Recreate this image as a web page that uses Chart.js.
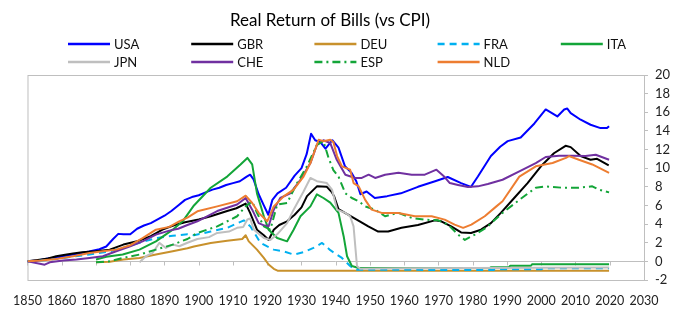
<!DOCTYPE html>
<html>
<head>
<meta charset="utf-8">
<script src="https://cdn.jsdelivr.net/npm/chart.js@4.4.0/dist/chart.umd.min.js"></script>
<style>
  html, body { margin: 0; padding: 0; background: #fff; }
  #wrap { width: 700px; height: 322px; }
</style>
</head>
<body>
<div id="wrap"><canvas id="billsChart" width="700" height="322"></canvas></div>
<script>
const chartTitle = 'Real Return of Bills (vs CPI)';
const xTicks = [1850, 1860, 1870, 1880, 1890, 1900, 1910, 1920, 1930, 1940, 1950, 1960, 1970, 1980, 1990, 2000, 2010, 2020, 2030];
const yTicks = [-2, 0, 2, 4, 6, 8, 10, 12, 14, 16, 18, 20];

const usaYears = [1850, 1853, 1856, 1859, 1862, 1865, 1868, 1871, 1873, 1875, 1876.5, 1878, 1880, 1882, 1884, 1886, 1888, 1890, 1892, 1894, 1896, 1898, 1900, 1902, 1904, 1906, 1908, 1910, 1912, 1914, 1915, 1916, 1917.5, 1919, 1920.3, 1921.5, 1923, 1925.5, 1928, 1930, 1931.5, 1932.8, 1934, 1935.5, 1937, 1939, 1940.8, 1942.7, 1944.6, 1946, 1947.2, 1949, 1951.4, 1955, 1959, 1964, 1969, 1972.7, 1976.6, 1979.5, 1981.5, 1985.3, 1988, 1990.2, 1994, 1998, 2001.3, 2004.7, 2006.7, 2007.6, 2008.6, 2011.5, 2014.4, 2017.3, 2019.2, 2019.8];
const usaVals = [0, 0.1, 0.3, 0.45, 0.65, 0.85, 1.05, 1.3, 1.6, 2.4, 2.95, 2.9, 2.9, 3.5, 3.85, 4.1, 4.5, 4.9, 5.4, 6.0, 6.6, 6.9, 7.1, 7.4, 7.7, 7.9, 8.2, 8.4, 8.6, 9.1, 9.3, 8.8, 7.2, 6.0, 5.0, 6.6, 7.3, 7.9, 9.2, 10.0, 11.5, 13.7, 13.0, 12.8, 12.1, 13.0, 12.2, 10.2, 9.5, 8.6, 7.2, 7.5, 6.8, 7.0, 7.3, 8.0, 8.6, 9.05, 8.4, 8.0, 9.1, 11.3, 12.3, 12.9, 13.3, 14.8, 16.3, 15.55, 16.3, 16.4, 15.9, 15.2, 14.66, 14.3, 14.3, 14.5];

const gbrYears = [1850, 1853, 1856, 1858.4, 1861, 1863.3, 1866, 1870, 1874, 1878, 1882, 1886, 1889.4, 1893, 1896, 1900, 1903.5, 1908.3, 1911, 1913.7, 1915, 1917, 1919, 1920.4, 1921.9, 1923.5, 1925.8, 1928, 1930, 1931.6, 1934.5, 1937.4, 1938.9, 1939.5, 1940.8, 1942.7, 1944.6, 1947, 1949.5, 1952.4, 1955.3, 1959.2, 1964, 1968.9, 1970.8, 1973.7, 1976.6, 1979.5, 1982.4, 1985.3, 1988.2, 1992.1, 1996, 1999.9, 2003.7, 2007.1, 2008.6, 2011.5, 2014.4, 2016.3, 2019.7];
const gbrVals = [0, 0.15, 0.3, 0.55, 0.7, 0.84, 0.98, 1.08, 1.26, 1.8, 2.15, 2.7, 3.4, 3.9, 4.2, 4.5, 4.85, 5.4, 5.7, 6.2, 5.2, 3.4, 2.8, 2.3, 3.4, 3.9, 4.3, 5.0, 5.8, 7.0, 8.05, 8.0, 7.4, 7.0, 5.6, 5.2, 4.8, 4.3, 3.75, 3.2, 3.2, 3.6, 3.9, 4.4, 4.3, 3.75, 3.1, 3.05, 3.4, 4.1, 5.2, 6.8, 8.4, 10.2, 11.6, 12.4, 12.26, 11.3, 10.9, 11.0, 10.3];

const deuYears = [1870, 1874, 1878, 1882.7, 1887.5, 1892.4, 1896.7, 1898.6, 1903.5, 1908.3, 1912.7, 1913.7, 1914.6, 1917, 1919, 1920.4, 1921.9, 1923, 2019.8];
const deuVals = [-0.1, -0.05, 0.2, 0.37, 0.73, 1.08, 1.4, 1.6, 1.98, 2.2, 2.4, 2.8, 2.15, 1.26, 0.37, -0.34, -0.8, -1.0, -1.0];

const fraYears = [1850, 1854, 1858.4, 1863, 1868.1, 1874, 1877.8, 1882.7, 1887.5, 1892.4, 1896.7, 1898.6, 1903.5, 1908.3, 1913.2, 1915.1, 1918, 1920, 1921.9, 1924.8, 1927.7, 1930.6, 1933.5, 1936, 1938.4, 1941.8, 1944.2, 1945.7, 1986, 1986.5, 2000, 2000.5, 2019.8];
const fraVals = [0, 0.1, 0.26, 0.5, 0.73, 1.08, 1.44, 1.98, 2.5, 2.75, 2.9, 2.8, 3.2, 3.6, 4.4, 3.75, 2.0, 1.6, 1.26, 1.08, 0.73, 0.98, 1.44, 1.98, 1.2, 0.37, -0.5, -0.9, -0.93, -0.85, -0.85, -0.75, -0.75];

const itaYears = [1870, 1873, 1877.8, 1882.7, 1887.5, 1892.4, 1895.3, 1898.6, 1903.5, 1908.3, 1912.2, 1914.2, 1915.6, 1917, 1919, 1920.4, 1922.9, 1925.8, 1927.7, 1929.7, 1932.6, 1934.5, 1936.4, 1938.4, 1940.8, 1942.3, 1943.3, 1944.7, 1946.7, 1985, 1985.3, 1990.6, 1990.9, 1997, 1997.3, 2019.8];
const itaVals = [0.2, 0.5, 0.73, 1.26, 2.15, 3.4, 4.3, 6.0, 7.9, 9.1, 10.4, 11.1, 10.4, 7.3, 4.84, 3.4, 2.5, 2.15, 3.4, 4.84, 5.9, 7.2, 6.8, 6.3, 5.2, 2.7, 0.55, -0.5, -0.72, -0.72, -0.62, -0.62, -0.47, -0.47, -0.32, -0.32];

const jpnYears = [1882.7, 1884.6, 1886.5, 1888.5, 1890.4, 1892.4, 1894.3, 1896.7, 1899.6, 1903, 1905.4, 1908.8, 1911.2, 1913, 1914.2, 1915, 1916.1, 1919, 1920.9, 1922.9, 1925.8, 1927.7, 1930.6, 1932.6, 1934.5, 1937.4, 1938.9, 1940.4, 1942.8, 1944.2, 1945.2, 1946.2, 1947.1, 1960, 2019.8];
const jpnVals = [-0.1, 0.55, 0.9, 1.98, 1.44, 1.8, 1.62, 2.0, 2.4, 2.6, 3.05, 3.2, 3.6, 3.7, 4.5, 4.6, 3.4, 2.5, 2.3, 2.9, 4.1, 5.55, 7.5, 8.95, 8.6, 8.4, 7.7, 5.55, 5.2, 4.84, 3.75, -0.5, -0.8, -0.75, -0.65];

const cheYears = [1850, 1853.6, 1855, 1856.5, 1860.4, 1864.3, 1868.1, 1872, 1875.9, 1879.8, 1883.6, 1887.5, 1891.4, 1894, 1896.7, 1899.6, 1905.4, 1911.2, 1913.7, 1915.6, 1917.5, 1919.2, 1920.4, 1921.9, 1923.8, 1926.7, 1929.7, 1932.6, 1934.5, 1936.4, 1938.4, 1940.3, 1942.8, 1945.7, 1947.6, 1949.6, 1951.5, 1954.4, 1958.3, 1962.2, 1966, 1969.4, 1971.4, 1973.3, 1975.7, 1978.6, 1981.5, 1984.4, 1988.7, 1993.6, 1998.4, 2001.3, 2005.2, 2009.1, 2012.9, 2015.9, 2019.8];
const cheVals = [0, -0.25, -0.36, -0.1, 0.1, 0.2, 0.37, 0.55, 1.08, 1.6, 2.15, 2.87, 3.3, 3.5, 3.9, 4.3, 5.4, 6.1, 6.8, 5.55, 4.1, 3.84, 3.76, 5.55, 6.8, 7.3, 8.76, 10.55, 12.5, 13.0, 12.7, 10.9, 9.3, 8.95, 8.95, 9.3, 8.95, 9.3, 9.5, 9.3, 9.3, 9.84, 9.2, 8.4, 8.2, 7.98, 8.05, 8.3, 8.76, 9.66, 10.55, 11.2, 11.34, 11.34, 11.3, 11.44, 10.9];

const espYears = [1870, 1874, 1877.8, 1882.7, 1887.5, 1892.4, 1896.7, 1899.6, 1905.4, 1911.2, 1913.7, 1915.6, 1917, 1919, 1920.9, 1922.9, 1925.8, 1928.7, 1931.6, 1934.5, 1936.4, 1937.9, 1939.3, 1940.8, 1942.8, 1944.7, 1946.7, 1948.6, 1951.5, 1954.4, 1958.3, 1962.2, 1966, 1969.9, 1972.8, 1975.7, 1977.7, 1980.6, 1983.9, 1988.7, 1993.6, 1998.4, 2001.3, 2006.2, 2011, 2014.9, 2016.8, 2019.8];
const espVals = [-0.1, 0.0, 0.37, 0.73, 1.26, 1.8, 2.4, 3.05, 3.76, 4.84, 5.9, 6.45, 5.2, 3.76, 3.4, 6.1, 6.26, 8.4, 10.2, 12.5, 12.9, 11.1, 9.8, 9.1, 7.3, 6.8, 6.45, 5.9, 5.55, 4.84, 5.2, 4.66, 4.48, 4.4, 3.94, 2.87, 2.3, 2.87, 3.6, 5.2, 6.6, 7.9, 8.05, 7.9, 7.9, 8.05, 7.7, 7.4];

const nldYears = [1850, 1854, 1858.4, 1863.3, 1868.1, 1872, 1875.9, 1879.8, 1883.6, 1887.5, 1891.4, 1894.3, 1896.7, 1899.6, 1905.4, 1911.2, 1913.7, 1915.6, 1917.5, 1920, 1921.9, 1924.8, 1927.7, 1930.6, 1932.6, 1935, 1936.4, 1938.4, 1939.3, 1940.4, 1941.8, 1944.2, 1945.2, 1946.7, 1948.6, 1950.5, 1953.4, 1958.3, 1963.1, 1968, 1971.8, 1974.7, 1977.2, 1979.6, 1983.5, 1986.9, 1988.7, 1993.6, 1998.4, 2003.3, 2007.2, 2008.1, 2011, 2014.9, 2019.8];
const nldVals = [0, 0.1, 0.26, 0.55, 0.9, 1.08, 1.26, 1.7, 2.5, 3.4, 3.7, 4.3, 4.7, 5.37, 5.9, 6.45, 7.05, 6.26, 5.2, 4.3, 5.9, 6.97, 7.7, 9.1, 10.55, 13.05, 12.9, 13.05, 12.8, 11.3, 10.2, 9.84, 8.4, 8.05, 6.6, 5.55, 5.2, 5.2, 4.84, 4.84, 4.48, 3.94, 3.6, 3.94, 4.84, 5.9, 6.45, 9.1, 10.2, 10.55, 11.1, 11.3, 10.9, 10.4, 9.5];

const series = [
    { label: 'USA', years: usaYears, values: usaVals, color: '#0000ff', dash: [] },
    { label: 'GBR', years: gbrYears, values: gbrVals, color: '#000000', dash: [] },
    { label: 'DEU', years: deuYears, values: deuVals, color: '#c8912c', dash: [] },
    { label: 'FRA', years: fraYears, values: fraVals, color: '#00b0f0', dash: [7, 5] },
    { label: 'ITA', years: itaYears, values: itaVals, color: '#13a538', dash: [] },
    { label: 'JPN', years: jpnYears, values: jpnVals, color: '#bfbfbf', dash: [] },
    { label: 'CHE', years: cheYears, values: cheVals, color: '#7030a0', dash: [] },
    { label: 'ESP', years: espYears, values: espVals, color: '#13a538', dash: [8, 4, 2, 4] },
    { label: 'NLD', years: nldYears, values: nldVals, color: '#ed7d31', dash: [] }
];

const FONT = 'Lato, sans-serif';
const GREY = '#bfbfbf';

// title, two-row legend, plot frame and the zero axis with its ticks
const frame = {
    id: 'frame',
    beforeDatasetsDraw(chart) {
        const { ctx, chartArea: a, scales } = chart;
        ctx.save();
        ctx.strokeStyle = GREY;
        ctx.lineWidth = 1;
        ctx.strokeRect(a.left + 0.5, a.top + 0.5, a.right - a.left, a.bottom - a.top);
        const y0 = Math.round(scales.y.getPixelForValue(0)) + 0.5;
        ctx.beginPath();
        ctx.moveTo(a.left, y0);
        ctx.lineTo(a.right, y0);
        xTicks.forEach(t => {
            const x = Math.round(scales.x.getPixelForValue(t)) + 0.5;
            ctx.moveTo(x, y0);
            ctx.lineTo(x, y0 + 4);
        });
        ctx.stroke();
        ctx.restore();
    },
    afterDraw(chart) {
        const { ctx } = chart;
        ctx.save();
        ctx.fillStyle = '#000';
        ctx.font = '17px ' + FONT;
        ctx.textAlign = 'center';
        ctx.textBaseline = 'middle';
        ctx.fillText(chartTitle, 330, 21);

        ctx.font = '13px ' + FONT;
        ctx.textAlign = 'left';
        chart.data.datasets.forEach((ds, i) => {
            const x0 = 68 + (i % 5) * 123.2;
            const y = i < 5 ? 44 : 62;
            ctx.strokeStyle = ds.borderColor;
            ctx.lineWidth = 2.7;
            ctx.setLineDash(ds.borderDash);
            ctx.beginPath();
            ctx.moveTo(x0, y);
            ctx.lineTo(x0 + 42, y);
            ctx.stroke();
            ctx.setLineDash([]);
            ctx.fillStyle = '#111';
            ctx.fillText(ds.label, x0 + 46, y + 1);
        });
        ctx.restore();
    }
};

document.addEventListener('DOMContentLoaded', function() {
    const ctx = document.getElementById('billsChart').getContext('2d');

    new Chart(ctx, {
        type: 'line',
        data: {
            datasets: series.map((s, i) => ({
                label: s.label,
                data: s.years.map((x, j) => ({ x, y: s.values[j] })),
                borderColor: s.color,
                backgroundColor: s.color,
                borderDash: s.dash,
                borderWidth: 2,
                borderJoinStyle: 'round',
                pointRadius: 0,
                tension: 0,
                fill: false,
                order: series.length - i
            }))
        },
        options: {
            responsive: false,
            animation: false,
            layout: { padding: { top: 75, left: 24, right: 0, bottom: 0 } },
            plugins: {
                legend: { display: false },
                title: { display: false },
                tooltip: { enabled: false }
            },
            scales: {
                x: {
                    type: 'linear',
                    min: 1850,
                    max: 2030,
                    afterBuildTicks: s => { s.ticks = xTicks.map(v => ({ value: v })); },
                    afterFit: s => { s.height = 42; },
                    ticks: {
                        callback: v => String(v),
                        autoSkip: false,
                        maxRotation: 0,
                        color: '#222',
                        padding: 13,
                        font: { family: FONT, size: 12.5 }
                    },
                    grid: { display: false, drawTicks: false },
                    border: { display: false }
                },
                y: {
                    position: 'right',
                    min: -2,
                    max: 20,
                    afterBuildTicks: s => { s.ticks = yTicks.map(v => ({ value: v })); },
                    afterFit: s => { s.width = 56; },
                    ticks: {
                        color: '#222',
                        padding: 7,
                        font: { family: FONT, size: 13 }
                    },
                    grid: { drawOnChartArea: false, drawTicks: true, tickLength: 4, color: GREY },
                    border: { display: true, color: GREY }
                }
            }
        },
        plugins: [frame]
    });
});
</script>
</body>
</html>
